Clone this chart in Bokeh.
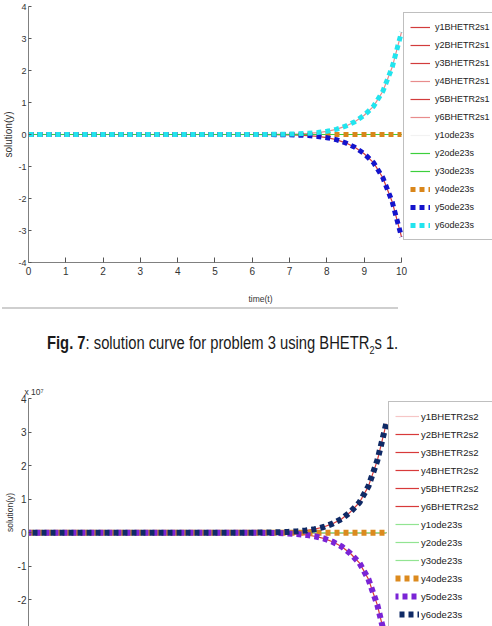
from bokeh.plotting import figure
from bokeh.models import Range1d, FixedTicker, Legend, LegendItem, Div
from bokeh.layouts import column
from bokeh.embed import file_html
from bokeh.resources import INLINE

# ---------------- data ----------------
t = [0, 1, 2, 3, 4, 5, 6, 6.5, 7, 7.25, 7.5, 7.75, 8, 8.25, 8.5, 8.75, 9, 9.25, 9.5, 9.75, 10]
zeros = [0, 0, 0, 0, 0, 0, 0, 0, 0, 0, 0, 0, 0, 0, 0, 0, 0, 0, 0, 0, 0]

# figure 1 (BHETR2s1)
y6_fig1 = [0, 0, 0, 0, 0, 0, 0, 0.004, 0.012, 0.022, 0.037, 0.06, 0.1, 0.16, 0.26, 0.4, 0.6, 0.88, 1.35, 2.1, 3.2]
y5_fig1 = [0, 0, 0, 0, 0, 0, 0, -0.003, -0.01, -0.02, -0.035, -0.06, -0.1, -0.16, -0.26, -0.4, -0.6, -0.88, -1.35, -2.1, -3.2]

# figure 2 (BHETR2s2), values x 10^7
y6_fig2 = [0, 0, 0, 0, 0, 0, 0, 0.004, 0.012, 0.024, 0.04, 0.065, 0.105, 0.17, 0.27, 0.41, 0.62, 0.9, 1.38, 2.15, 3.25]
y5_fig2 = [0, 0, 0, 0, 0, 0, 0, -0.004, -0.012, -0.024, -0.04, -0.065, -0.105, -0.17, -0.27, -0.41, -0.62, -0.9, -1.38, -2.15, -3.25]

x_ticks = [0, 1, 2, 3, 4, 5, 6, 7, 8, 9, 10]
y_ticks = [-4, -3, -2, -1, 0, 1, 2, 3, 4]
y_tick_labels = ["-4", "-3", "-2", "-1", "0", "1", "2", "3", "4"]

labels1 = ["y1BHETR2s1", "y2BHETR2s1", "y3BHETR2s1", "y4BHETR2s1", "y5BHETR2s1", "y6BHETR2s1",
           "y1ode23s", "y2ode23s", "y3ode23s", "y4ode23s", "y5ode23s", "y6ode23s"]
labels2 = ["y1BHETR2s2", "y2BHETR2s2", "y3BHETR2s2", "y4BHETR2s2", "y5BHETR2s2", "y6BHETR2s2",
           "y1ode23s", "y2ode23s", "y3ode23s", "y4ode23s", "y5ode23s", "y6ode23s"]

thin_colors1 = ["#d23c3c", "#d23c3c", "#d23c3c", "#e88c8c", "#d23c3c", "#e88c8c",
                "#f2f2f2", "#3ccf3c", "#3ccf3c"]
thick_colors1 = ["#d9861a", "#1414cc", "#22e4ee"]
thin_colors2 = ["#f6c6c6", "#d83a3a", "#d83a3a", "#d83a3a", "#d83a3a", "#d83a3a",
                "#92e492", "#92e492", "#92e492"]
thick_colors2 = ["#dc8a1e", "#7a24d6", "#0f2a66"]

FONT = "Liberation Sans"


def style_axis(ax):
    ax.axis_line_color = "#808080"
    ax.major_tick_line_color = "#555555"
    ax.major_tick_out = 0
    ax.minor_tick_line_color = None
    ax.major_label_text_font = FONT
    ax.major_label_text_font_size = "9px"
    ax.major_label_text_color = "#333333"
    ax.axis_label_text_font = FONT
    ax.axis_label_text_font_style = "normal"
    ax.axis_label_text_color = "#333333"


def draw(p, y5, y6, labels, thin_colors, thick_colors, dash_offsets, lw):
    series_thin = [zeros, zeros, zeros, zeros, y5, y6, zeros, zeros, zeros]
    items = []
    for i in range(9):
        r = p.line(t, series_thin[i], line_color=thin_colors[i], line_width=1.2)
        items.append(LegendItem(label=labels[i], renderers=[r]))
    series_thick = [zeros, y5, y6]
    for j in range(3):
        r = p.line(t, series_thick[j], line_color=thick_colors[j], line_width=lw,
                   line_dash="5 4", line_dash_offset=dash_offsets[j])
        items.append(LegendItem(label=labels[9 + j], renderers=[r]))
    return items


def y_overrides():
    return {tk: lab for tk, lab in zip(y_ticks, y_tick_labels)}


# ---------------- figure 1 ----------------
p1 = figure(width=492, height=306, x_range=Range1d(0, 12.44), y_range=Range1d(-4, 4),
            min_border_left=28, min_border_top=6, min_border_bottom=44, min_border_right=0,
            output_backend="svg", toolbar_location=None)
p1.xgrid.visible = False
p1.ygrid.visible = False
p1.outline_line_color = None
p1.background_fill_color = "white"
p1.border_fill_color = "white"

items1 = draw(p1, y5_fig1, y6_fig1, labels1, thin_colors1, thick_colors1, [0, 0, 0], 5)

style_axis(p1.xaxis[0])
p1.xaxis.ticker = FixedTicker(ticks=x_ticks)
p1.xaxis.bounds = (0, 10)
p1.xaxis.major_tick_in = 5
p1.xaxis.major_label_standoff = 4
p1.xaxis.major_label_text_font_size = "10px"
p1.xaxis.axis_label = "time(t)"
p1.xaxis.axis_label_text_font_size = "8.5px"
p1.xaxis.axis_label_standoff = 16

style_axis(p1.yaxis[0])
p1.yaxis.ticker = FixedTicker(ticks=y_ticks)
p1.yaxis.major_label_overrides = y_overrides()
p1.yaxis.major_tick_in = 3
p1.yaxis.major_label_standoff = 2
p1.yaxis.axis_label = "solution(y)"
p1.yaxis.axis_label_text_font_size = "10px"
p1.yaxis.axis_label_standoff = 1

leg1 = Legend(items=items1, location=(375, 22), orientation="vertical",
              padding=6, spacing=2, margin=0, glyph_width=20, glyph_height=16,
              label_height=16, label_standoff=5,
              label_text_font=FONT, label_text_font_size="9px", label_text_color="#222222",
              border_line_color="#7f7f7f", border_line_width=1,
              background_fill_color="white", background_fill_alpha=1)
p1.add_layout(leg1)

# ---------------- caption ----------------
caption = Div(
    text=(
        '<div style="position:relative;width:492px;height:77px;">'
        '<div style="position:absolute;left:2px;top:1px;width:396px;height:0;'
        'border-top:2px solid #cfcfcf;"></div>'
        '<div style="position:absolute;left:47px;top:25px;white-space:nowrap;'
        "font-family:'Liberation Sans',Arial,sans-serif;font-size:18px;color:#1a1a1a;"
        'transform:scaleX(0.82);transform-origin:0 0;">'
        '<b>Fig. 7</b>: solution curve for problem 3 using BHETR'
        '<sub style="font-size:11px;">2</sub>s 1.</div></div>'
    ),
    width=492, height=77, margin=0)

# ---------------- figure 2 ----------------
p2 = figure(width=492, height=243, x_range=Range1d(0, 12.97), y_range=Range1d(-2.795, 4),
            min_border_left=25, min_border_top=14, min_border_bottom=0, min_border_right=0,
            x_axis_location=None, output_backend="svg", toolbar_location=None,
            title="x 10\u2077")
p2.title.align = "left"
p2.title.offset = -4
p2.title.text_font = FONT
p2.title.text_font_size = "8.5px"
p2.title.text_font_style = "normal"
p2.title.text_color = "#333333"
p2.title.standoff = 3
p2.xgrid.visible = False
p2.ygrid.visible = False
p2.outline_line_color = None
p2.background_fill_color = "white"
p2.border_fill_color = "white"

items2 = draw(p2, y5_fig2, y6_fig2, labels2, thin_colors2, thick_colors2, [0, 2, 5], 6)

style_axis(p2.yaxis[0])
p2.yaxis.ticker = FixedTicker(ticks=y_ticks)
p2.yaxis.major_label_overrides = y_overrides()
p2.yaxis.major_tick_in = 3
p2.yaxis.major_label_standoff = 2
p2.yaxis.major_label_text_font_size = "10px"
p2.yaxis.axis_label = "solution(y)"
p2.yaxis.axis_label_text_font_size = "8.5px"
p2.yaxis.axis_label_standoff = 0

leg2 = Legend(items=items2, location=(360, -3), orientation="vertical",
              padding=6, spacing=2, margin=0, glyph_width=24, glyph_height=16,
              label_height=16, label_standoff=2, label_width=82,
              label_text_font=FONT, label_text_font_size="9.5px", label_text_color="#222222",
              border_line_color="#7f7f7f", border_line_width=1,
              background_fill_color="white", background_fill_alpha=1)
p2.add_layout(leg2)

layout = column(p1, caption, p2, spacing=0)
open("out.html", "w").write(file_html(layout, INLINE))
